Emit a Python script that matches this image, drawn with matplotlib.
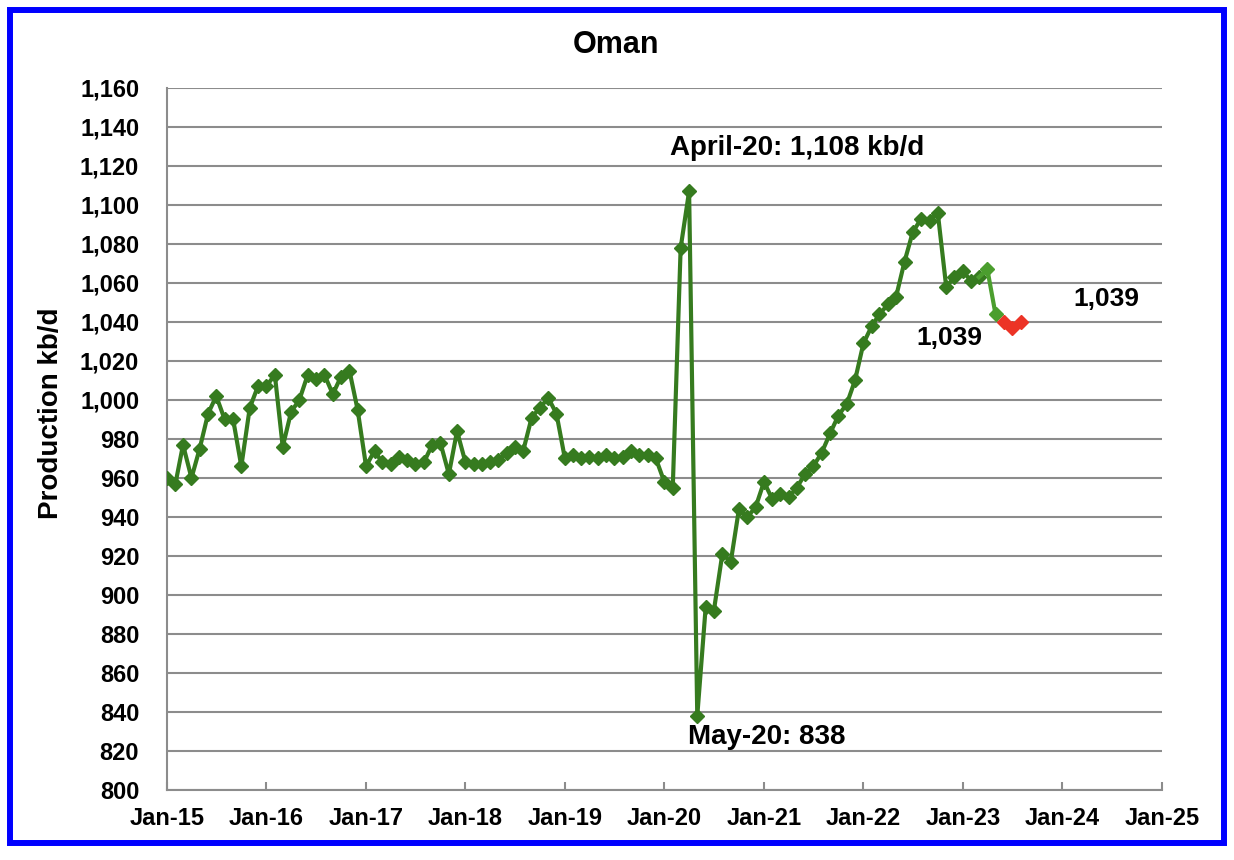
import numpy as np
import pandas as pd
import matplotlib
matplotlib.use('Agg')
import matplotlib.pyplot as plt
import matplotlib.dates as mdates
from matplotlib.ticker import FuncFormatter
from matplotlib.patches import Rectangle

plt.rcParams['font.family'] = ['Liberation Sans', 'DejaVu Sans']
plt.rcParams['font.weight'] = 'bold'

# monthly production, kb/d, Jan-15 .. Mar-23
prod = [
    960, 957, 977, 960, 975, 993, 1002, 990, 990, 966, 996, 1007,        # 2015
    1007, 1013, 976, 994, 1000, 1013, 1011, 1013, 1003, 1012, 1015, 995,  # 2016
    966, 974, 968, 967, 971, 969, 967, 968, 977, 978, 962, 984,           # 2017
    968, 967, 967, 968, 969, 973, 976, 974, 991, 996, 1001, 993,          # 2018
    970, 972, 970, 971, 970, 972, 970, 971, 974, 972, 972, 970,           # 2019
    958, 955, 1078, 1107, 838, 894, 892, 921, 917, 944, 940, 945,         # 2020
    958, 949, 952, 950, 955, 962, 966, 973, 983, 992, 998, 1010,          # 2021
    1029, 1038, 1044, 1049, 1053, 1071, 1086, 1093, 1092, 1096, 1058, 1063,  # 2022
    1066, 1061, 1063,                                                     # 2023
]
# latest months (lighter green) and the estimates (red)
recent = [1063, 1067, 1044]      # Mar-23 .. May-23
estimate = [1040, 1037, 1040]    # Jun-23 .. Aug-23

months = pd.date_range('2015-01-01', periods=len(prod), freq='MS')
recent_months = pd.date_range('2023-03-01', periods=len(recent), freq='MS')
est_months = pd.date_range('2023-06-01', periods=len(estimate), freq='MS')

y_ticks = list(range(800, 1161, 20))
x_ticks = pd.date_range('2015-01-01', '2025-01-01', freq='YS')

dark = '#367b1f'
light = '#4b9e2e'
red = '#ec3326'
grey = '#8c8c8c'

fig = plt.figure(figsize=(12.34, 8.6), dpi=100)
ax = fig.add_axes([0.1353, 0.0814, 0.8063, 0.8163])

ax.plot(months, prod, color=dark, lw=3, marker='D', ms=7.5, zorder=3)
ax.plot(recent_months, recent, color=light, lw=3, marker='D', ms=7.5,
        markevery=[1, 2], zorder=4)
ax.plot(est_months, estimate, color=red, lw=3, marker='D', ms=7.5, zorder=4)

ax.set_ylim(800, 1160)
ax.set_xlim(x_ticks[0], x_ticks[-1])
ax.set_yticks(y_ticks)
ax.set_xticks(x_ticks)
ax.yaxis.set_major_formatter(FuncFormatter(lambda v, p: '{:,.0f}'.format(v)))
ax.xaxis.set_major_formatter(mdates.DateFormatter('%b-%y'))

ax.grid(axis='y', color=grey, lw=1.5)
ax.set_axisbelow(True)
for s in ['top', 'right']:
    ax.spines[s].set_visible(False)
for s in ['left', 'bottom']:
    ax.spines[s].set_color(grey)
    ax.spines[s].set_linewidth(1.5)

ax.tick_params(axis='x', direction='in', length=6, width=1.5, color=grey,
               labelsize=17, pad=12)
ax.tick_params(axis='y', length=0, labelsize=17, pad=20)
for lab in ax.get_xticklabels() + ax.get_yticklabels():
    lab.set_fontweight('bold')

ax.set_ylabel('Production kb/d', fontsize=20, fontweight='bold')
ax.yaxis.set_label_coords(-0.103, 0.537)

ax.text(pd.Timestamp('2021-05-01'), 1129, 'April-20: 1,108 kb/d', fontsize=20,
        fontweight='bold', ha='center', va='center')
ax.text(pd.Timestamp('2021-01-10'), 827, 'May-20: 838', fontsize=20,
        fontweight='bold', ha='center', va='center')
ax.text(pd.Timestamp('2022-11-12'), 1032, '1,039', fontsize=19,
        fontweight='bold', ha='center', va='center')
ax.text(pd.Timestamp('2024-06-10'), 1052, '1,039', fontsize=19,
        fontweight='bold', ha='center', va='center')

fig.text(0.499, 1 - 45 / 860, 'Oman', fontsize=22, fontweight='bold',
         ha='center', va='center')

# blue frame round the whole chart
fig.patches.append(Rectangle((0.0081, 0.0198), 0.9838, 0.9686,
                             transform=fig.transFigure, fill=False,
                             edgecolor='#0000ff', lw=4.3))

fig.savefig('out.png', dpi=100)
